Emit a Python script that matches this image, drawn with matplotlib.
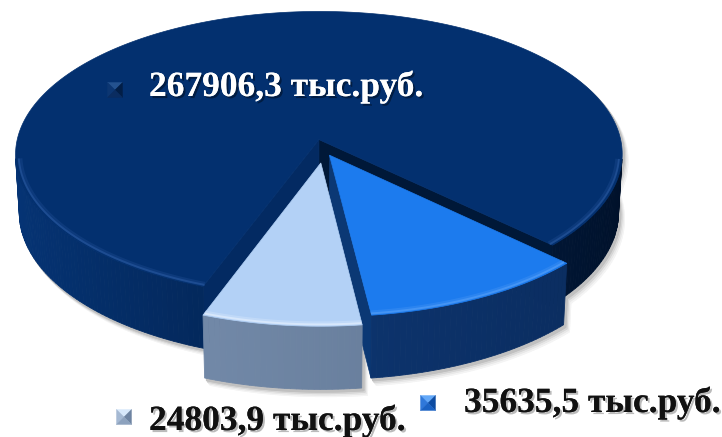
import numpy as np
import matplotlib
matplotlib.use("Agg")
import matplotlib.pyplot as plt
from matplotlib.patches import Polygon
import matplotlib.patheffects as pe
from matplotlib.colors import to_rgb

# ---------------- data ----------------
values = [267906.3, 35635.5, 24803.9]
labels = ["267906,3 тыс.руб.", "35635,5 тыс.руб.", "24803,9 тыс.руб."]

# ---------------- style ----------------
top_colors = ["#03306F", "#1C7BEE", "#B3D1F6"]
side_left = ["#053475", "#0F3D80", "#7D95B5"]
side_right = ["#00112A", "#0A2B5C", "#5A6F8C"]
wall_start = ["#001838", "#0B3874", "#6C84A4"]
wall_end = ["#032A62", "#0A3066", "#6C84A4"]
rim_colors = ["#2B5BA3", "#5AA2F8", "#EAF3FF"]
explode = [0.075, 0.04, 0.09]
draw_order = [0, 1, 2]          # back to front
ccw_order = [1, 0, 2]           # slices counter-clockwise from boundary
boundary_deg = -83.0

label_pos = [(149, 96), (464, 412), (149, 430)]
label_colors = ["white", "#111111", "#111111"]
marker_pos = [(115, 90), (428, 403), (124, 417)]
marker_cols = [
    ("#24528F", "#0C3672", "#021E46", "#0A2C60"),
    ("#63A8F8", "#2F78DA", "#0D4CA2", "#1A62C4"),
    ("#D7E8FB", "#A5B9D3", "#6E84A2", "#8DA2BE"),
]

# projection parameters
CX, CY, S = 324.0, 150.0, 304.0
sphi = 0.472
cphi = np.sqrt(1 - sphi ** 2)
D = 8.5
H = 0.22
CAM = np.array([0.0, -D * cphi, D * sphi])


def proj(X, Y, Z):
    X = np.asarray(X, float); Y = np.asarray(Y, float); Z = np.asarray(Z, float)
    zc = D + Y * cphi - Z * sphi
    px = CX + S * X * D / zc
    py = CY - S * (Y * sphi + Z * cphi) * D / zc
    return px, py


def visible(n, P):
    return np.dot(n, CAM - P) > 0


def mix(c1, c2, t):
    a = np.array(to_rgb(c1)); b = np.array(to_rgb(c2))
    return tuple(a * (1 - t) + b * t)


# angles
total = float(sum(values))
angles = {}
th = boundary_deg
for i in ccw_order:
    span = 360.0 * values[i] / total
    angles[i] = (th, th + span)
    th += span

fig = plt.figure(figsize=(7.22, 4.37), dpi=100)
ax = fig.add_axes([0, 0, 1, 1])
ax.set_xlim(0, 722)
ax.set_ylim(437, 0)
ax.axis("off")


def slice_geometry(i):
    t1, t2 = np.radians(angles[i])
    mid = 0.5 * (t1 + t2)
    ox, oy = explode[i] * np.cos(mid), explode[i] * np.sin(mid)
    return t1, t2, ox, oy


def outline_polys(i):
    t1, t2, ox, oy = slice_geometry(i)
    th = np.linspace(t1, t2, 200)
    polys = []
    for z in (0.0, -H):
        X = np.concatenate([[ox], ox + np.cos(th)])
        Y = np.concatenate([[oy], oy + np.sin(th)])
        px, py = proj(X, Y, np.full_like(X, z))
        polys.append(np.column_stack([px, py]))
    xa, ya = proj(ox + np.cos(th), oy + np.sin(th), np.zeros_like(th))
    xb, yb = proj(ox + np.cos(th), oy + np.sin(th), np.full_like(th, -H))
    polys.append(np.column_stack([np.concatenate([xa, xb[::-1]]),
                                  np.concatenate([ya, yb[::-1]])]))
    for t in (t1, t2):
        X = [ox, ox + np.cos(t), ox + np.cos(t), ox]
        Y = [oy, oy + np.sin(t), oy + np.sin(t), oy]
        Z = [0, 0, -H, -H]
        px, py = proj(X, Y, Z)
        polys.append(np.column_stack([px, py]))
    return polys


# ---- shadows ----
for d, col in [(7, "#f4f4f4"), (5.5, "#e8e8e8"), (4, "#d6d6d6"), (2.5, "#c0c0c0")]:
    for i in draw_order:
        for poly in outline_polys(i):
            ax.add_patch(Polygon(poly + np.array([d * 0.8, d]), closed=True,
                                 facecolor=col, edgecolor=col, lw=1, zorder=1))


def draw_slice(i, z0):
    t1, t2, ox, oy = slice_geometry(i)
    for t, normal, col in [(t1, np.array([np.sin(t1), -np.cos(t1), 0]), wall_start[i]),
                           (t2, np.array([-np.sin(t2), np.cos(t2), 0]), wall_end[i])]:
        P = np.array([ox + 0.5 * np.cos(t), oy + 0.5 * np.sin(t), -H / 2])
        if visible(normal, P):
            X = [ox, ox + np.cos(t), ox + np.cos(t), ox]
            Y = [oy, oy + np.sin(t), oy + np.sin(t), oy]
            Z = [0, 0, -H, -H]
            px, py = proj(X, Y, Z)
            ax.add_patch(Polygon(np.column_stack([px, py]), closed=True,
                                 facecolor=col, edgecolor=col, lw=0.5, zorder=z0))
    n = max(int(np.degrees(t2 - t1)), 4)
    th = np.linspace(t1, t2, n + 1)
    vis_th = []
    for a, b in zip(th[:-1], th[1:]):
        m = 0.5 * (a + b)
        normal = np.array([np.cos(m), np.sin(m), 0])
        P = np.array([ox + np.cos(m), oy + np.sin(m), -H / 2])
        if not visible(normal, P):
            continue
        vis_th.append((a, b))
        tt = (np.cos(m) + 1) / 2
        col = mix(side_left[i], side_right[i], tt)
        X = [ox + np.cos(a), ox + np.cos(b), ox + np.cos(b), ox + np.cos(a)]
        Y = [oy + np.sin(a), oy + np.sin(b), oy + np.sin(b), oy + np.sin(a)]
        Z = [0, 0, -H, -H]
        px, py = proj(X, Y, Z)
        ax.add_patch(Polygon(np.column_stack([px, py]), closed=True,
                             facecolor=col, edgecolor=col, lw=0.6, zorder=z0 + 0.1))
    thf = np.linspace(t1, t2, 300)
    X = np.concatenate([[ox], ox + np.cos(thf)])
    Y = np.concatenate([[oy], oy + np.sin(thf)])
    px, py = proj(X, Y, np.zeros_like(X))
    ax.add_patch(Polygon(np.column_stack([px, py]), closed=True,
                         facecolor=top_colors[i], edgecolor=top_colors[i], lw=0.5,
                         zorder=z0 + 0.2))
    if vis_th:
        segs = []
        cur = [vis_th[0][0], vis_th[0][1]]
        for a, b in vis_th[1:]:
            if abs(a - cur[1]) < 1e-9:
                cur[1] = b
            else:
                segs.append(cur); cur = [a, b]
        segs.append(cur)
        for a, b in segs:
            tr = np.linspace(a, b, 100)
            for lw, al, r in [(3.0, 0.25, 0.985), (1.4, 0.55, 0.99)]:
                px, py = proj(ox + r * np.cos(tr), oy + r * np.sin(tr), np.zeros_like(tr))
                ax.plot(px, py, color=rim_colors[i], lw=lw, alpha=al,
                        solid_capstyle="butt", zorder=z0 + 0.3)


for k, i in enumerate(draw_order):
    draw_slice(i, 10 + k)


def draw_marker(cx, cy, size, cols):
    h = size / 2
    c = (cx, cy)
    tl, tr_, br, bl = (cx - h, cy - h), (cx + h, cy - h), (cx + h, cy + h), (cx - h, cy + h)
    tris = [
        ([tl, tr_, c], cols[0]),
        ([tl, bl, c], cols[1]),
        ([tr_, br, c], cols[2]),
        ([bl, br, c], cols[3]),
    ]
    for pts, col in tris:
        ax.add_patch(Polygon(pts, closed=True, facecolor=col, edgecolor=col,
                             lw=0.3, zorder=30))


for i in range(len(values)):
    mx, my = marker_pos[i]
    draw_marker(mx, my, 15, marker_cols[i])
    x, y = label_pos[i]
    shadow_col = "black" if i == 0 else "#555555"
    ax.text(x, y, labels[i], fontsize=25.5, fontweight="bold",
            family=["Liberation Serif", "DejaVu Serif"],
            color=label_colors[i], ha="left", va="baseline", zorder=31,
            path_effects=[pe.withSimplePatchShadow(offset=(1.5, -1.5),
                                                   shadow_rgbFace=shadow_col,
                                                   alpha=0.4),
                          pe.Normal()])

fig.savefig("out.png", dpi=100)
